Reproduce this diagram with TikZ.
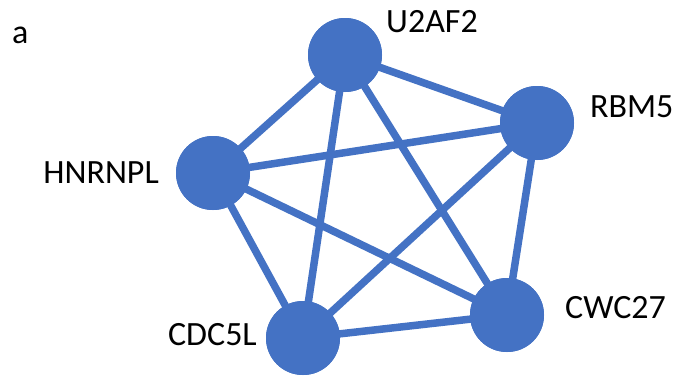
\documentclass[tikz,border=0pt]{standalone}
\usepackage{fontspec}
\setmainfont{Carlito}
\definecolor{netblue}{HTML}{4472C4}
\begin{document}
\begin{tikzpicture}[x=1pt,y=-1pt,
  protein/.style={circle,fill=netblue,minimum size=74pt,inner sep=0pt},
  link/.style={draw=netblue,line width=7.5pt},
  tag/.style={inner sep=0pt,font=\fontsize{34}{40}\selectfont}]
\useasboundingbox (0,0) rectangle (677,376);
\fill[white] (0,0) rectangle (677,376);
% interaction partners
\node[protein] (u2af2) at (345,55) {};
\node[protein] (rbm5) at (537,123) {};
\node[protein] (hnrnpl) at (213,173) {};
\node[protein] (cdc5l) at (303,338) {};
\node[protein] (cwc27) at (507,315) {};
% every pair interacts
\begin{scope}[on background layer/.try]
\foreach \a/\b in {u2af2/rbm5,u2af2/hnrnpl,u2af2/cdc5l,u2af2/cwc27,
  rbm5/hnrnpl,rbm5/cdc5l,rbm5/cwc27,hnrnpl/cdc5l,hnrnpl/cwc27,cdc5l/cwc27}
  \draw[link] (\a.center) -- (\b.center);
\end{scope}
% redraw discs over the edges
\foreach \n in {u2af2,rbm5,hnrnpl,cdc5l,cwc27}
  \fill[netblue] (\n) circle (37pt);
% labels
\node[tag,anchor=west] (panel) at (12,35) {a};
\node[tag,anchor=west] (lu2af2) at (386,22) {U2AF2};
\node[tag,anchor=west] (lrbm5) at (590,107) {RBM5};
\node[tag,anchor=east] (lhnrnpl) at (159,172.5) {HNRNPL};
\node[tag,anchor=east] (lcdc5l) at (257,335) {CDC5L};
\node[tag,anchor=west] (lcwc27) at (565,307.5) {CWC27};
\end{tikzpicture}
\end{document}
